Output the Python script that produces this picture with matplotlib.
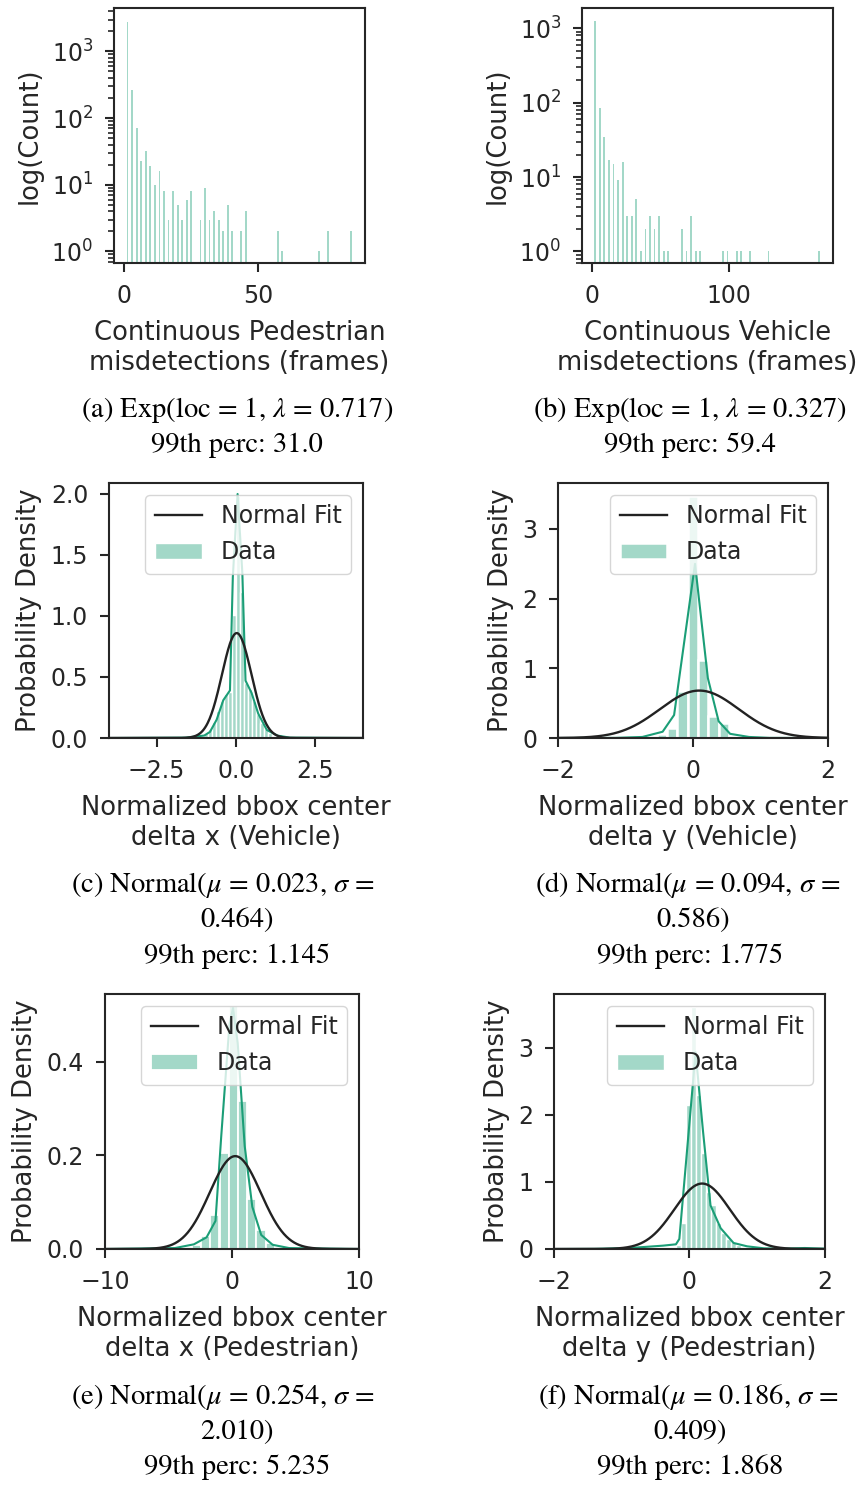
import numpy as np
import matplotlib
matplotlib.use("Agg")
from matplotlib import pyplot as plt

# colours (seaborn Dark2 green at alpha 0.4 for the bars)
GREEN = "#1b9e77"
BAR_FACE = (27 / 255, 158 / 255, 119 / 255, 0.4)
DARK = "#262626"

# (a) continuous pedestrian misdetections, 50 bins
a_bin_first, a_bin_width = 1.36, 1.7
a_counts = [2800, 260, 70, 23, 32, 19, 10, 16, 8, 3,
            8, 5, 3, 6, 8, 0, 3, 9, 3, 4,
            3, 2, 5, 2, 0, 2, 4, 0, 0, 0,
            0, 0, 0, 2, 1, 0, 0, 0, 0, 0,
            0, 0, 1, 0, 2, 0, 0, 0, 0, 2]

# (b) continuous vehicle misdetections, 50 bins
b_bin_first, b_bin_width = 2.4, 3.33
b_counts = [1240, 85, 35, 17, 15, 9, 16, 3, 3, 5,
            1, 2, 3, 2, 3, 1, 1, 0, 0, 2,
            1, 3, 1, 1, 0, 0, 0, 0, 1, 1,
            0, 1, 1, 0, 1, 0, 0, 0, 1, 0,
            0, 0, 0, 0, 0, 0, 0, 0, 0, 1]

# (c) delta x vehicle
c_centers = [-1.19, -1.06, -0.94, -0.81, -0.69, -0.56, -0.43, -0.31, -0.18, -0.056,
             0.07, 0.19, 0.32, 0.45, 0.57, 0.70, 0.82, 0.95, 1.07, 1.2, 1.32]
c_heights = [0.01, 0.02, 0.04, 0.07, 0.13, 0.22, 0.30, 0.36, 0.38, 1.01,
             1.98, 1.2, 0.45, 0.40, 0.30, 0.2, 0.12, 0.07, 0.04, 0.02, 0.01]
c_kde_x = [-4, -1.6, -1.0, -0.82, -0.61, -0.4, -0.19, -0.1, 0.05, 0.2, 0.3, 0.49, 0.70, 0.97, 1.3, 1.7, 4]
c_kde_y = [0, 0.003, 0.02, 0.05, 0.15, 0.31, 0.39, 1.32, 2.0, 1.35, 0.47, 0.37, 0.20, 0.066, 0.02, 0.003, 0]
c_mu, c_sigma = 0.023, 0.464

# (d) delta y vehicle
d_centers = [-0.61, -0.458, -0.306, -0.154, 0.0, 0.152, 0.304, 0.456, 0.608, 0.76, 0.912]
d_heights = [0.01, 0.06, 0.15, 0.67, 3.47, 1.12, 0.31, 0.21, 0.03, 0.02, 0.01]
d_kde_x = [-2, -1.15, -0.75, -0.45, -0.28, 0.03, 0.22, 0.38, 0.55, 0.83, 1.13, 2]
d_kde_y = [0, 0.002, 0.015, 0.09, 0.33, 2.5, 0.86, 0.24, 0.06, 0.015, 0.002, 0]
d_mu, d_sigma = 0.094, 0.586

# (e) delta x pedestrian
e_centers = [-3.53, -2.80, -2.08, -1.35, -0.62, 0.105, 0.83, 1.56, 2.29, 3.01, 3.74]
e_heights = [0.004, 0.009, 0.027, 0.073, 0.206, 0.52, 0.317, 0.107, 0.041, 0.013, 0.005]
e_kde_x = [-10, -4.5, -3.0, -2.0, -1.3, -0.85, -0.2, 0.08, 0.45, 1.0, 1.6, 2.3, 3.2, 4.5, 10]
e_kde_y = [0, 0.002, 0.01, 0.025, 0.06, 0.24, 0.48, 0.515, 0.44, 0.22, 0.09, 0.03, 0.009, 0.002, 0]
e_mu, e_sigma = 0.254, 2.010

# (f) delta y pedestrian
f_centers = [-0.31, -0.24, -0.16, -0.09, -0.015, 0.06, 0.13, 0.21, 0.28, 0.36,
             0.43, 0.5, 0.58, 0.65, 0.73, 0.8, 0.88]
f_heights = [0.02, 0.03, 0.06, 0.39, 2.15, 3.6, 2.3, 1.43, 0.85, 0.66,
             0.39, 0.24, 0.15, 0.10, 0.06, 0.03, 0.02]
f_kde_x = [-2, -1.4, -0.88, -0.39, -0.2, -0.15, 0.09, 0.2, 0.31, 0.46, 0.65, 0.85, 1.1, 1.4, 1.7, 2]
f_kde_y = [0, 0.002, 0.015, 0.05, 0.07, 0.15, 2.93, 1.75, 0.65, 0.31, 0.09, 0.04, 0.01, 0.005, 0.015, 0.005]
f_mu, f_sigma = 0.186, 0.409

plt.rcParams.update({
    "font.family": "DejaVu Sans",
    "axes.edgecolor": DARK,
    "axes.linewidth": 1.5,
    "axes.labelcolor": DARK,
    "text.color": DARK,
    "xtick.color": DARK,
    "ytick.color": DARK,
    "xtick.major.size": 6.5,
    "ytick.major.size": 6.5,
    "xtick.major.width": 1.5,
    "ytick.major.width": 1.5,
    "ytick.minor.size": 4,
    "ytick.minor.width": 1.2,
    "xtick.major.pad": 8.5,
    "ytick.major.pad": 8.5,
    "xtick.labelsize": 17,
    "ytick.labelsize": 17,
    "axes.labelsize": 18.6,
    "legend.fontsize": 17,
    "mathtext.fontset": "dejavusans",
})

W, H = 862, 1485
fig = plt.figure(figsize=(W / 100, H / 100), dpi=100)


def box(l, r, t, b):
    return [l / W, 1 - b / H, (r - l) / W, (b - t) / H]


def count_panel(rect, first, width, counts, xlim, ylim, xticks, xlabel):
    ax = fig.add_axes(rect)
    centers = first + width * np.arange(len(counts))
    ax.bar(centers, counts, width=width * 0.4, color=BAR_FACE, linewidth=0)
    ax.set_yscale("log")
    ax.set_xlim(*xlim)
    ax.set_ylim(*ylim)
    ax.set_xticks(xticks)
    ax.set_ylabel("log(Count)", labelpad=6)
    ax.set_xlabel(xlabel, labelpad=9)
    return ax


def density_panel(rect, centers, heights, bw, kx, ky, mu, sigma, xlim, ylim,
                  xticks, yticks, xlabel, lw_edge=1.0):
    ax = fig.add_axes(rect)
    bars = ax.bar(centers, heights, width=bw, facecolor=BAR_FACE, edgecolor="white",
                  linewidth=lw_edge, zorder=1)
    ax.plot(kx, ky, color=GREEN, lw=1.5, zorder=2)
    xs = np.linspace(xlim[0], xlim[1], 400)
    pdf = np.exp(-0.5 * ((xs - mu) / sigma) ** 2) / (sigma * np.sqrt(2 * np.pi))
    fit, = ax.plot(xs, pdf, color="#222222", lw=1.7, zorder=3)
    ax.set_xlim(*xlim)
    ax.set_ylim(*ylim)
    ax.set_xticks(xticks)
    ax.set_yticks(yticks)
    ax.set_ylabel("Probability Density", labelpad=6)
    ax.set_xlabel(xlabel, labelpad=9)
    ax.legend([fit, bars], ["Normal Fit", "Data"], loc="upper right", framealpha=0.8)
    return ax


count_panel(box(114, 365, 8, 263), a_bin_first, a_bin_width, a_counts,
            (-3.7, 90), (0.67, 4470), [0, 50],
            "Continuous Pedestrian\nmisdetections (frames)")
count_panel(box(582, 833, 8, 263), b_bin_first, b_bin_width, b_counts,
            (-7.3, 176), (0.7, 1870), [0, 100],
            "Continuous Vehicle\nmisdetections (frames)")

density_panel(box(109, 363, 483, 738), c_centers, c_heights, 0.126,
              c_kde_x, c_kde_y, c_mu, c_sigma, (-4, 4), (0, 2.09),
              [-2.5, 0, 2.5], [0, 0.5, 1.0, 1.5, 2.0],
              "Normalized bbox center\ndelta x (Vehicle)")
density_panel(box(558, 828, 483, 738), d_centers, d_heights, 0.152,
              d_kde_x, d_kde_y, d_mu, d_sigma, (-2, 2), (0, 3.66),
              [-2, 0, 2], [0, 1, 2, 3],
              "Normalized bbox center\ndelta y (Vehicle)", lw_edge=1.8)
density_panel(box(105, 359, 994, 1249), e_centers, e_heights, 0.727,
              e_kde_x, e_kde_y, e_mu, e_sigma, (-10, 10), (0, 0.545),
              [-10, 0, 10], [0, 0.2, 0.4],
              "Normalized bbox center\ndelta x (Pedestrian)", lw_edge=1.3)
density_panel(box(554, 825, 994, 1249), f_centers, f_heights, 0.074,
              f_kde_x, f_kde_y, f_mu, f_sigma, (-2, 2), (0, 3.8),
              [-2, 0, 2], [0, 1, 2, 3],
              "Normalized bbox center\ndelta y (Pedestrian)")

# subfigure captions
cap = dict(ha="center", va="center", fontsize=20.5, family="STIXGeneral",
           color="black", math_fontfamily="stix")


def caption(x, y, text):
    fig.text(x / W, 1 - y / H, text, **cap)


caption(237, 410, r"(a) Exp(loc = 1, $\lambda$ = 0.717)")
caption(237, 445, "99th perc: 31.0")
caption(690, 410, r"(b) Exp(loc = 1, $\lambda$ = 0.327)")
caption(690, 445, "99th perc: 59.4")

caption(223, 885, r"(c) Normal($\mu$ = 0.023, $\sigma$ =")
caption(237, 920, "0.464)")
caption(237, 956, "99th perc: 1.145")
caption(688, 885, r"(d) Normal($\mu$ = 0.094, $\sigma$ =")
caption(693, 920, "0.586)")
caption(690, 956, "99th perc: 1.775")

caption(223, 1397, r"(e) Normal($\mu$ = 0.254, $\sigma$ =")
caption(237, 1432, "2.010)")
caption(237, 1467, "99th perc: 5.235")
caption(688, 1397, r"(f) Normal($\mu$ = 0.186, $\sigma$ =")
caption(690, 1432, "0.409)")
caption(690, 1467, "99th perc: 1.868")

plt.savefig("out.png", dpi=100)
